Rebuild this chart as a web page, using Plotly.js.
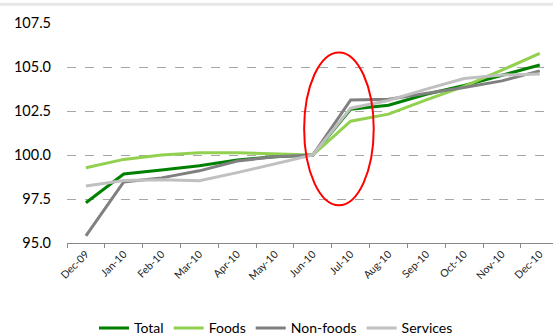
<!DOCTYPE html>
<html>
<head>
<meta charset="utf-8">
<script src="https://cdn.plot.ly/plotly-3.0.1.min.js"></script>
<style>html,body{margin:0;padding:0;background:#fff;}#chart{width:553px;height:336px;}</style>
</head>
<body>
<div id="chart"></div>
<script>
const months = ["Dec-09","Jan-10","Feb-10","Mar-10","Apr-10","May-10","Jun-10","Jul-10","Aug-10","Sep-10","Oct-10","Nov-10","Dec-10"];
const total    = [97.29, 98.92, 99.15, 99.39, 99.72, 99.90, 100.0, 102.60, 102.83, 103.45, 103.95, 104.55, 105.11];
const foods    = [99.28, 99.75, 100.00, 100.13, 100.13, 100.08, 100.0, 101.92, 102.32, 103.13, 103.90, 104.82, 105.77];
const nonfoods = [95.41, 98.47, 98.70, 99.10, 99.66, 99.90, 100.0, 103.13, 103.17, 103.50, 103.84, 104.21, 104.78];
const services = [98.24, 98.55, 98.60, 98.54, 99.00, 99.49, 100.0, 102.66, 103.10, 103.74, 104.35, 104.54, 104.60];

const seriesNames = ["Total","Foods","Non-foods","Services"];
const seriesColors = ["#008000","#92d050","#808080","#c0c0c0"];
const seriesData = [total, foods, nonfoods, services];

// highlight ellipse around the July jump (data coordinates)
const ellipseX = [5.77, 7.61];
const ellipseY = [97.14, 105.83];

const traces = seriesData.map((d, i) => ({
  type: "scatter",
  mode: "lines",
  x: months,
  y: d,
  name: seriesNames[i],
  line: {color: seriesColors[i], width: 3}
}));

const layout = {
  width: 553,
  height: 336,
  margin: {l: 67, r: 0, t: 23, b: 93, autoexpand: false},
  paper_bgcolor: "#fff",
  plot_bgcolor: "#fff",
  font: {family: "Lato, 'Open Sans', sans-serif", color: "#000", size: 13},
  showlegend: true,
  legend: {
    orientation: "h",
    x: 0.43, xanchor: "center", xref: "paper",
    y: -0.315, yanchor: "top",
    font: {size: 14, color: "#000"},
    itemwidth: 30,
    tracegroupgap: 0
  },
  xaxis: {
    type: "category",
    range: [-0.5, 12.35],
    tickson: "boundaries",
    ticks: "outside",
    ticklen: 4,
    tickcolor: "#888",
    showline: true,
    linecolor: "#888",
    linewidth: 1,
    showgrid: false,
    tickangle: -45,
    tickfont: {size: 10.5, color: "#222"},
    fixedrange: true
  },
  yaxis: {
    range: [95, 107.5],
    tick0: 95,
    dtick: 2.5,
    tickformat: ".1f",
    showgrid: true,
    gridcolor: "#a6a6a6",
    griddash: "dash",
    gridwidth: 1,
    zeroline: false,
    showline: false,
    ticks: "",
    ticklabelstandoff: 15,
    tickfont: {size: 14.5, color: "#000"},
    fixedrange: true
  },
  shapes: [
    {
      type: "circle",
      xref: "x", yref: "y",
      x0: ellipseX[0], x1: ellipseX[1],
      y0: ellipseY[0], y1: ellipseY[1],
      line: {color: "#ff0000", width: 2},
      fillcolor: "rgba(0,0,0,0)"
    },
    {
      type: "line",
      xref: "paper", yref: "paper",
      x0: -0.2, x1: 1.2, y0: 1.085, y1: 1.085,
      line: {color: "#e6e6e6", width: 3}
    }
  ]
};

Plotly.newPlot("chart", traces, layout, {displayModeBar: false, staticPlot: true});
</script>
</body>
</html>
